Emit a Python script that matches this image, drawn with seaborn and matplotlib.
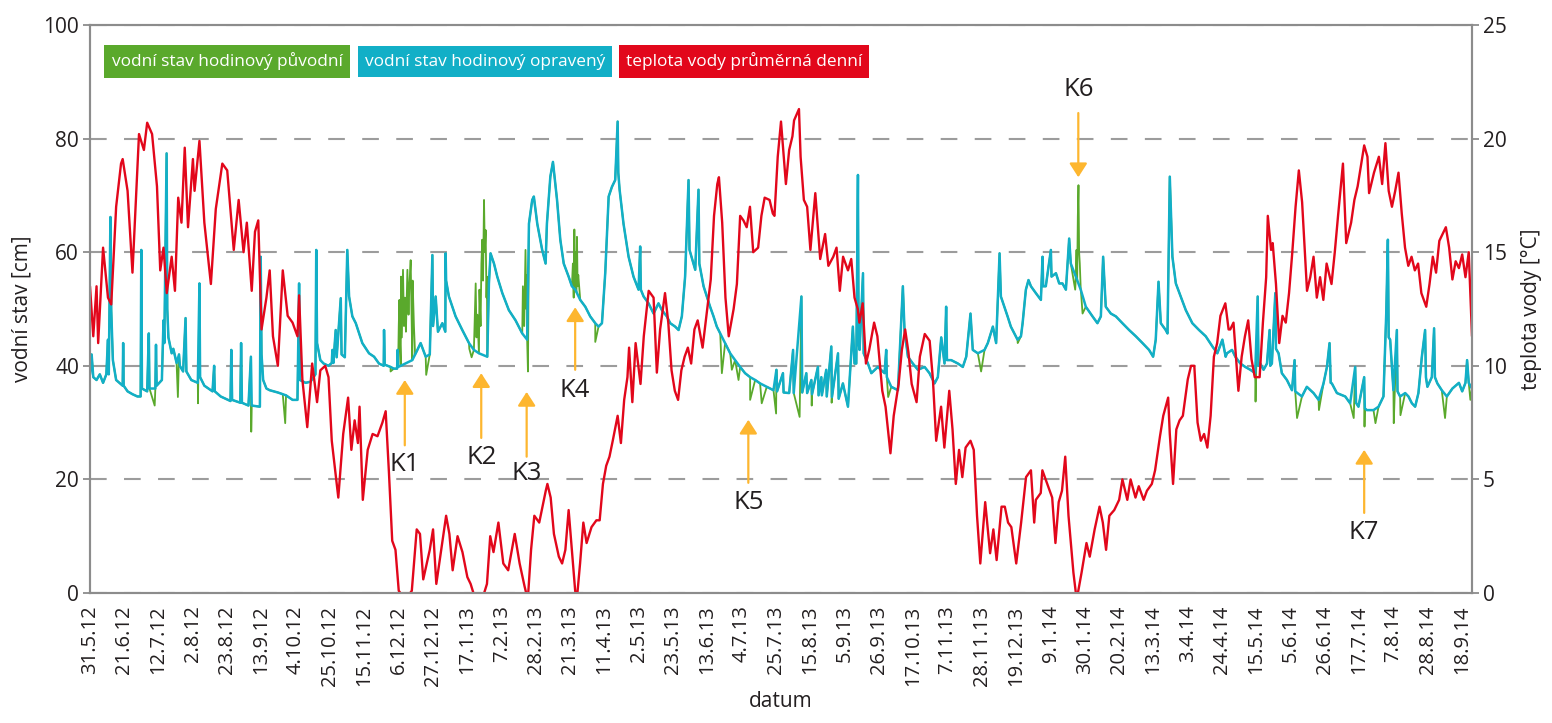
import numpy as np
import pandas as pd
import matplotlib
matplotlib.use("Agg")
import matplotlib.pyplot as plt
import seaborn as sns

# ---------------- data ----------------
START = "2012-05-31"

tick_labels = ["31.5.12", "21.6.12", "12.7.12", "2.8.12", "23.8.12", "13.9.12", "4.10.12",
               "25.10.12", "15.11.12", "6.12.12", "27.12.12", "17.1.13", "7.2.13", "28.2.13",
               "21.3.13", "11.4.13", "2.5.13", "23.5.13", "13.6.13", "4.7.13", "25.7.13",
               "15.8.13", "5.9.13", "26.9.13", "17.10.13", "7.11.13", "28.11.13", "19.12.13",
               "9.1.14", "30.1.14", "20.2.14", "13.3.14", "3.4.14", "24.4.14", "15.5.14",
               "5.6.14", "26.6.14", "17.7.14", "7.8.14", "28.8.14", "18.9.14"]

# water temperature, daily mean (days after 31.5.2012, degC)
temp_days = [0, 2, 4, 5, 8, 11, 13, 16, 19, 20, 23, 26, 28, 30, 33, 35, 38, 41, 43, 45, 47, 50, 52, 54, 56,
             58, 60, 63, 64, 67, 70, 74, 77, 81, 84, 88, 91, 94, 96, 99, 101, 103, 105, 108, 110, 112, 115,
             118, 121, 124, 127, 128, 130, 133, 136, 139,
             141, 144, 146, 148, 152, 155, 158, 160, 162, 164, 165, 167, 170, 173, 176, 179, 181, 183, 185,
             187, 189, 193, 197, 200, 202, 204, 208, 210, 212, 215, 218, 220, 222, 225, 228, 231, 233, 236,
             240, 243, 245, 247, 250, 253, 256, 260, 263, 266, 268, 270, 272, 275, 279,
             280, 282, 284, 287, 289, 291, 293, 295, 297, 298, 300, 302, 304, 307, 310, 312, 314, 316, 318,
             320, 323, 325, 327, 329, 330, 332, 334, 337, 339, 342, 345, 347, 349, 352, 354, 356, 358, 360,
             362, 364, 366, 368, 370, 372, 375, 378, 380, 382, 384, 385, 387, 389, 391, 394, 396, 398, 400,
             402, 404, 406, 409, 411, 413, 416, 418,
             419, 421, 423, 426, 428, 430, 431, 434, 435, 437, 439, 441, 444, 447, 450, 452, 455, 457, 459,
             461, 464, 466, 468, 470, 471, 473, 475, 477, 480, 482, 485, 487, 490, 492, 495, 497, 499, 501,
             503, 506, 508, 511, 514, 516, 518, 521, 523, 526, 528, 530, 532, 534, 536, 539, 541, 543, 545,
             548, 551, 553, 555, 558,
             560, 562, 564, 567, 570, 573, 576, 578, 579, 582, 583, 586, 589, 591, 593, 595, 597, 599, 602,
             604, 607, 610, 612, 615, 618, 620, 622, 624, 627, 630, 632, 635, 637, 640, 642, 645, 647, 650,
             652, 655, 657, 660, 661, 663, 665, 667, 669, 672, 674, 676, 678, 680, 682, 684, 686, 688, 690,
             692, 695, 697,
             698, 700, 703, 705, 707, 709, 711, 713, 716, 718, 720, 721, 723, 724, 726, 728, 730, 732, 734,
             736, 738, 740, 742, 745, 747, 749, 751, 753, 755, 757, 760, 762, 764, 767, 769, 772, 774, 776,
             780, 782, 783, 786, 789, 791, 793, 795, 797, 799, 801, 803, 805, 807, 809, 811, 813, 815, 818,
             820, 822, 824, 826, 830, 832, 834, 836, 838, 840, 842, 844, 846]
temp_vals = [13.5, 11.3, 13.5, 11.0, 15.2, 13.0, 12.7, 17.0, 18.9, 19.1, 17.7, 14.1, 17.2, 20.2, 19.5, 20.7,
             20.2, 17.9, 14.2, 15.2, 13.2, 14.8, 13.3, 17.4, 16.3, 19.6, 16.1, 19.1, 17.7, 19.9, 16.3, 13.6,
             16.9, 18.9, 18.6, 15.1, 17.3, 15.0, 16.3, 13.3, 15.9, 16.4, 11.6, 13.0, 14.2, 11.3, 10.0, 14.2,
             12.2, 11.9, 11.3, 13.1, 9.4, 7.3, 10.1, 8.4,
             9.8, 10.0, 9.5, 6.7, 4.2, 7.0, 8.6, 6.3, 7.6, 6.6, 8.2, 4.1, 6.3, 7.0, 6.9, 7.5, 8.0, 5.3, 2.3,
             1.9, 0.1, -0.3, 0.1, 2.8, 2.6, 0.6, 1.9, 2.8, 0.4, 1.9, 3.4, 2.6, 1.0, 2.5, 1.8, 0.7, 0.4, -0.3,
             -0.3, 0.4, 2.5, 1.8, 3.1, 1.3, 1.0, 2.6, 1.3, 0.3, -0.3, 1.9, 3.4, 3.1, 4.5,
             4.8, 4.2, 2.6, 1.6, 1.3, 1.9, 3.65, 1.9, 0.1, -0.3, 1.3, 3.1, 2.2, 2.9, 3.2, 3.2, 4.8, 5.6, 6.0,
             6.7, 7.8, 6.6, 8.5, 9.5, 10.8, 8.4, 11.0, 9.2, 11.3, 13.3, 13.0, 9.7, 11.6, 13.2, 11.9, 9.8, 8.9,
             8.5, 9.8, 10.4, 10.8, 10.1, 11.6, 12.0, 10.8, 12.6, 13.8, 16.6, 18.0, 18.3, 16.3, 13.0, 11.3,
             12.5, 13.6, 16.6, 16.4, 16.1, 17.0, 15.0, 15.2, 16.6, 17.4, 17.3, 16.7,
             16.6, 19.2, 20.75, 18.0, 19.5, 20.1, 20.8, 21.3, 19.2, 17.3, 17.0, 15.1, 17.6, 14.7, 15.8, 14.4,
             14.8, 15.2, 13.3, 14.8, 14.2, 14.7, 13.0, 12.5, 11.9, 12.75, 10.1, 10.7, 11.9, 11.3, 8.9, 8.2,
             6.15, 7.8, 9.2, 10.7, 11.6, 10.6, 9.2, 8.4, 10.4, 11.4, 11.1, 9.4, 6.7, 8.2, 6.4, 8.9, 7.2, 4.8,
             6.3, 5.1, 6.4, 6.7, 6.3, 3.4, 1.3, 4.0, 1.75, 2.8, 1.45, 3.8,
             3.8, 3.1, 2.9, 1.3, 3.1, 5.1, 5.4, 3.1, 4.1, 4.4, 5.4, 4.8, 4.2, 2.2, 4.0, 4.5, 6.0, 3.4, 0.9,
             -0.3, 0.9, 2.2, 1.6, 2.8, 3.8, 3.1, 1.9, 3.4, 3.65, 4.1, 5.0, 4.1, 5.0, 4.2, 4.7, 4.1, 4.5, 4.8,
             5.4, 6.9, 7.8, 8.6, 7.0, 4.8, 7.2, 7.6, 7.8, 9.4, 10.0, 10.0, 7.5, 6.7, 7.0, 6.4, 7.8, 10.4,
             11.0, 12.2, 12.75, 11.6,
             11.6, 11.9, 8.9, 10.4, 11.3, 12.0, 10.3, 9.5, 9.5, 11.9, 13.9, 16.6, 15.1, 15.4, 13.6, 11.0,
             12.2, 11.9, 13.2, 15.0, 17.0, 18.6, 17.2, 13.3, 13.9, 14.8, 13.0, 13.9, 12.9, 14.5, 13.6, 15.0,
             16.6, 18.9, 15.4, 16.3, 17.3, 17.9, 19.7, 19.2, 17.6, 18.5, 19.2, 18.0, 19.8, 17.7, 17.0, 17.7,
             18.5, 16.7, 15.2, 14.4, 14.8, 14.2, 14.5, 13.2, 12.6, 13.6, 14.8, 14.1, 15.5, 16.1, 15.2, 13.8,
             14.6, 14.3, 14.9, 13.9, 15.0, 11.3]

# corrected hourly water level (days after 31.5.2012, cm)
level_days = [0, 1, 2, 4, 6, 8, 10, 11, 11.5, 12.5, 13, 14, 16, 18, 20, 20.3, 20.6, 23, 26, 29, 31, 31.4, 31.8,
              35, 36, 36.4, 40, 40.4, 40.8, 44, 45, 45.5, 46.9, 47.3, 48, 50, 51, 53, 54.5, 55, 57, 58.5, 59,
              62, 66, 67, 67.4, 70, 75, 76, 76.4, 80, 86, 86.5, 87, 92, 92.5, 93, 97, 98.5, 99, 104, 104.5,
              105, 106, 108, 110, 115, 118, 120, 124, 127, 128, 128.5, 132, 135, 138, 138.5, 139, 141, 143,
              146, 148, 148.4, 149, 150.4, 151, 153.5, 154, 156, 157.5, 158.6, 160.6, 162.7, 166.7, 170.8,
              173.9, 176.9, 179.8, 180, 180.4, 184, 186, 188, 188.3, 188.6, 190.2, 197.3, 199.4, 202.4,
              205.5, 208, 209.6, 210, 211.6, 213, 215.7, 217.5, 217.7, 218, 219.7, 223.8, 227.9, 232, 235,
              238.1, 243.2, 244.2, 245.2, 247.3, 249.3, 252.4, 256.4, 260.5, 264.6, 267.6, 268.7, 270.7,
              271.7, 273.8, 276.8, 278.9, 279.7, 281.8, 283.4, 285.9, 287.9, 290, 293, 295, 297.1, 300.1,
              303.2, 306.2, 309.3, 311.3, 313.4, 315.4, 317.5, 319.5, 321.5, 323, 323.4, 324.2, 326.6,
              329.7, 332.7, 335.8, 336.8, 337.2, 338.9, 341.9, 345, 348, 350.1, 353.1, 355.2, 358.2, 360.3,
              362.3, 364.3, 366.4, 367, 370.5, 372.5, 373, 375.6, 377.6, 379.6, 381.7, 383.7, 385.8, 388.8,
              391.9, 394.9, 398, 401, 404.1, 407.2, 410.2, 414.3, 418.4, 420.2, 420.6, 424.2, 424.6, 428,
              430.4, 430.8, 435.5, 436, 438.5, 439, 441.6, 442, 445.6, 446, 447.7, 448, 450.7, 451, 453.8,
              454.2, 457.9, 458.3, 460.9, 464, 467, 468, 469.1, 470.1, 470.5, 471.1, 473.2, 473.6, 476.2,
              478.3, 482.3, 486.4, 487.4, 487.8, 490.5, 494.6, 497.6, 498.6, 500.7, 503.7, 506.8, 510.9,
              513.9, 517, 519, 521.1, 523.1, 524.1, 524.6, 527.2, 531.3, 534.3, 536.4, 539, 540.4, 543.5,
              547.6, 549.6, 552.7, 554.7, 556.8, 557.6, 559.7, 561.7, 563.7, 565.8, 567.8, 569.9, 570.9,
              572.9, 574.5, 576, 579, 582.1, 583.1, 583.5, 585.1, 588.2, 588.6, 591.3, 593.3, 595.3, 597.4,
              599.4, 600.4, 603.5, 606.5, 609.6, 613.7, 616.7, 618.8, 620.2, 621.8, 624.9, 628, 632, 636.1,
              640.2, 644.3, 648.3, 650.8, 652.4, 654.1, 655.5, 658.5, 659.6, 661, 662.6, 664.7, 667.7,
              670.8, 674.8, 678.9, 683, 687.1, 690.1, 693.2, 695.2, 696, 699.1, 701.1, 704.2, 707.2, 710.3,
              713.3, 714.8, 715.3, 716.4, 718.4, 720.5, 722.1, 722.5, 723.5, 725.6, 726, 727.6, 729.6,
              732.7, 735.8, 737.4, 737.8, 741.9, 744.9, 749, 752.1, 755.1, 757.2, 758.8, 759.5, 760.2,
              763.3, 768.4, 771.4, 774.5, 775, 776.5, 780, 780.4, 781.6, 785.7, 788.8, 791.8, 793.5, 794.5,
              795, 795.9, 797.9, 800, 800.4, 802, 805.1, 807.1, 809.2, 811.2, 813.2, 815.3, 817.3, 817.8,
              818.7, 821.4, 822.8, 823.3, 824.8, 827.5, 830.6, 834, 838, 840, 842, 843, 844, 846]
level_vals = [38.5, 42.0, 38.0, 37.5, 38.5, 37.0, 38.5, 44.6, 38.5, 66.2, 49.8, 41.0, 37.5, 37.0, 36.5, 44.0,
              36.5, 35.5, 35.0, 34.6, 34.6, 60.4, 36.0, 35.5, 45.7, 36.0, 36.0, 43.7, 36.5, 37.5, 48.0, 44.0,
              77.4, 50.0, 45.0, 42.2, 43.0, 40.5, 42.0, 40.0, 39.0, 48.4, 39.0, 37.5, 37.0, 54.5, 38.0, 36.5,
              35.5, 40.0, 35.5, 34.6, 33.8, 42.8, 34.0, 33.5, 44.0, 33.5, 33.0, 41.6, 33.0, 32.8, 59.2, 42.0,
              37.5, 36.0, 35.7, 35.3, 35.0, 34.8, 34.0, 34.0, 54.5, 37.5, 37.0, 37.2, 38.5, 60.4, 44.0, 41.0,
              40.4, 40.0, 40.5, 42.8, 40.5, 46.3, 41.5, 51.9, 42.0, 41.5, 60.4, 52.2, 48.7, 47.5, 44.0, 42.2,
              41.6, 40.4, 40.0, 46.3, 40.2, 39.8, 39.5, 39.5, 42.8, 39.8, 40.0, 41.0, 42.2, 44.0, 41.6, 42.0,
              59.5, 47.0, 52.2, 46.0, 47.5, 46.0, 59.8, 55.0, 52.2, 48.7, 46.3, 44.0, 42.8, 42.2, 41.6, 54.5,
              59.8, 58.0, 55.7, 52.8, 49.8, 48.0, 45.7, 44.6, 65.0, 69.2, 69.8, 65.0, 60.4, 58.0, 65.0, 73.3,
              75.9, 69.2, 62.2, 58.0, 55.7, 54.0, 53.4, 51.6, 50.4, 48.7, 47.5, 46.9, 47.5, 56.3, 69.8, 71.5,
              72.7, 83.0, 74.0, 71.0, 65.0, 59.2, 55.7, 53.4, 61.0, 53.4, 52.2, 51.0, 49.2, 51.0, 49.8, 48.7,
              47.5, 46.9, 46.3, 48.7, 55.7, 72.7, 60.4, 56.9, 71.0, 58.0, 54.0, 52.2, 50.4, 48.7, 46.9, 45.7,
              44.0, 42.2, 41.0, 39.8, 38.7, 38.0, 37.5, 36.9, 36.3, 35.7, 39.3, 35.5, 38.7, 35.3, 35.2, 42.8,
              35.2, 52.2, 35.3, 38.7, 35.2, 37.5, 35.0, 39.8, 34.8, 38.0, 34.8, 39.3, 34.6, 43.4, 34.5, 42.2,
              34.2, 36.9, 32.8, 46.9, 40.4, 40.4, 73.6, 44.0, 42.8, 56.3, 42.2, 40.4, 38.7, 39.8, 38.7, 42.8,
              38.0, 36.3, 35.7, 54.0, 46.3, 41.6, 40.4, 39.3, 39.8, 38.7, 36.9, 38.0, 45.0, 40.4, 50.4, 41.0,
              41.0, 40.4, 39.8, 41.6, 49.2, 42.8, 42.2, 42.8, 44.0, 46.9, 44.0, 59.8, 52.2, 50.4, 48.7, 46.9,
              45.7, 44.6, 45.2, 47.5, 53.4, 55.1, 54.0, 52.8, 51.6, 59.2, 54.0, 54.0, 60.4, 55.7, 56.3, 54.5,
              54.5, 53.4, 62.4, 58.0, 55.7, 53.4, 50.4, 48.7, 47.5, 48.7, 59.2, 50.4, 49.2, 48.7, 47.5, 46.3,
              45.2, 44.0, 42.8, 41.6, 44.6, 54.8, 47.5, 46.3, 45.7, 73.3, 59.2, 54.5, 52.2, 49.8, 47.5, 46.3,
              45.2, 43.4, 42.2, 44.6, 41.6, 42.2, 42.8, 41.6, 40.4, 39.8, 39.3, 38.7, 52.2, 40.0, 40.4, 39.3,
              40.4, 46.3, 40.0, 40.4, 52.8, 43.0, 42.2, 38.7, 37.5, 35.7, 41.0, 35.5, 34.6, 36.3, 35.2, 34.0,
              36.9, 39.8, 44.0, 37.0, 36.9, 35.2, 34.6, 33.4, 39.8, 33.5, 32.8, 38.0, 32.5, 32.2, 32.2, 32.8,
              34.6, 49.2, 62.2, 45.0, 44.6, 35.7, 46.3, 35.5, 34.6, 35.2, 34.6, 33.4, 32.8, 35.2, 41.6, 46.3,
              38.0, 36.3, 38.0, 46.6, 38.0, 36.9, 35.7, 34.6, 36.0, 37.0, 35.5, 37.0, 41.0, 37.0, 36.0]

# points where the original (uncorrected) hourly record differs from the corrected one
orig_days = [39.6, 53.8, 66.1, 98.7, 119.5, 184, 189.0, 189.4, 189.8, 190.4, 190.9, 191.6, 192.2, 192.8,
             193.4, 194.3, 195.0, 195.5, 196.3, 196.8, 197.5, 198.3, 199.0, 205.8,
             232.2, 233.6, 236.1, 236.6, 237.1, 238.4, 239.1, 239.6, 240.1, 240.6, 241.2, 241.7, 242.2,
             242.7, 243.0, 265.0, 265.8, 266.6, 267.1, 267.5, 268.1,
             295.6, 296.1, 296.5, 296.9, 297.3, 297.7, 298.1, 298.5, 298.9, 309.3, 386.8, 392.9, 397.0,
             404.1, 411.2, 420.0, 434.4, 441.8, 454.0, 488.6, 545.5, 567.9,
             603.1, 603.6, 603.9, 604.3, 604.7, 605.1, 605.5, 605.9, 606.3, 606.7, 607.6,
             713.5, 738.9, 752.3, 773.6, 780.2, 786.9, 798.1, 802.2, 829.5, 845.0]
orig_vals = [33.0, 34.5, 33.4, 28.4, 29.9, 39.0, 47.0, 51.6, 44.0, 55.7, 45.0, 56.9, 47.0, 52.0,
             46.0, 56.9, 49.0, 54.0, 58.6, 50.0, 55.0, 47.0, 42.0, 38.4,
             43.0, 41.5, 54.5, 45.0, 49.0, 53.4, 47.0, 58.0, 62.2, 55.0, 69.2, 60.0, 63.9,
             52.0, 55.7, 54.0, 47.0, 60.4, 50.0, 56.0, 39.0,
             58.0, 52.0, 64.0, 54.0, 60.0, 53.0, 62.7, 54.0, 56.0, 44.2, 38.7, 39.3, 37.5,
             34.0, 33.4, 31.6, 31.0, 33.0, 33.5, 34.5, 39.0, 44.0,
             53.4, 58.0, 60.4, 55.0, 66.3, 71.8, 60.0, 58.0, 55.0, 52.8, 49.2,
             33.7, 30.8, 32.2, 30.8, 29.3, 29.9, 29.9, 31.3, 30.8, 34.0]

series_names = ["vodní stav hodinový původní", "vodní stav hodinový opravený",
                "teplota vody průměrná denní"]

# event markers K1..K7: (label, day, arrow head, arrow tail, label height) in level units
k_labels = ["K1", "K2", "K3", "K4", "K5", "K6", "K7"]
k_days = [192.7, 239.5, 267.3, 297.0, 403.0, 605.0, 780.0]
k_head = [37.5, 38.7, 35.4, 50.3, 30.5, 73.2, 25.2]
k_tail = [26.0, 27.3, 24.0, 39.3, 19.4, 84.5, 14.1]
k_text = [22.7, 23.9, 21.1, 35.7, 16.0, 88.6, 10.6]

# ---------------- styling ----------------
GREEN = "#5aa92c"
CYAN = "#12afc7"
RED = "#e2071b"
ARROW = "#fdb62f"
GRAY = "#8c8c8c"
TXT = "#231f20"

sns.set_style("white")
plt.rcParams["font.family"] = ["Open Sans", "DejaVu Sans"]
plt.rcParams["lines.scale_dashes"] = False

start = pd.Timestamp(START)
to_date = lambda d: start + pd.to_timedelta(np.asarray(d, dtype=float), unit="D")

df_corr = pd.DataFrame({"date": to_date(level_days), "level": level_vals, "day": level_days})
df_extra = pd.DataFrame({"date": to_date(orig_days), "level": orig_vals, "day": orig_days})
df_orig = pd.concat([df_corr, df_extra]).sort_values("day", kind="stable").reset_index(drop=True)
df_temp = pd.DataFrame({"date": to_date(temp_days), "temp": temp_vals})

W, H = 1552, 723
fig = plt.figure(figsize=(W / 100, H / 100), dpi=100)
L, R, T, B = 90, 1472, 25, 593
ax = fig.add_axes([L / W, 1 - B / H, (R - L) / W, (B - T) / H])
ax2 = ax.twinx()

sns.lineplot(data=df_orig, x="date", y="level", ax=ax, color=GREEN, linewidth=1.3,
             estimator=None, sort=False)
sns.lineplot(data=df_corr, x="date", y="level", ax=ax, color=CYAN, linewidth=1.8,
             estimator=None, sort=False)
sns.lineplot(data=df_temp, x="date", y="temp", ax=ax2, color=RED, linewidth=1.7,
             estimator=None, sort=False)

ax.set_xlim(start, start + pd.Timedelta(days=846))
ax.set_ylim(0, 100)
ax2.set_ylim(0, 25)
ax.set_yticks(range(0, 101, 20))
ax2.set_yticks(range(0, 26, 5))

tick_dates = pd.to_datetime(tick_labels, format="%d.%m.%y")
ax.set_xticks(tick_dates)
ax.set_xticklabels(tick_labels, rotation=90, fontsize=14.5, color=TXT)

ax.yaxis.grid(True, linestyle=(0, (12, 12.5)), color="#9c9c9c", linewidth=1.5)
ax.xaxis.grid(False)
ax.set_axisbelow(True)

for a in (ax, ax2):
    for s in a.spines.values():
        s.set_color(GRAY)
        s.set_linewidth(1.5)
ax.tick_params(axis="x", length=0, pad=9)
ax.tick_params(axis="y", length=5, width=1.3, color=GRAY, labelsize=15, labelcolor=TXT, pad=3)
ax2.tick_params(axis="y", length=5, width=1.3, color=GRAY, labelsize=15, labelcolor=TXT, pad=3)

ax.set_xlabel("datum", fontsize=15, color=TXT, labelpad=4)
ax.set_ylabel("vodní stav [cm]", fontsize=15, color=TXT, labelpad=8)
ax2.set_ylabel("teplota vody [°C]", fontsize=15, color=TXT, labelpad=10)

# event arrows and labels
for lab, d, hd, tl, ty in zip(k_labels, k_days, k_head, k_tail, k_text):
    xd = to_date([d])[0]
    ax.annotate("", xy=(xd, hd), xytext=(xd, tl),
                arrowprops=dict(arrowstyle="-|>,head_length=0.7,head_width=0.45",
                                mutation_scale=12, color=ARROW, lw=1.6,
                                shrinkA=0, shrinkB=0), zorder=6)
    ax.text(xd, ty, lab, fontsize=18.5, color=TXT, ha="center", va="center", zorder=6)

# colored legend boxes
legend_x = [227, 485, 744]
legend_col = [GREEN, CYAN, RED]
for name, xc, col in zip(series_names, legend_x, legend_col):
    fig.text(xc / W, 1 - 61.5 / H, name, color="white", fontsize=12.4, ha="center", va="center",
             bbox=dict(facecolor=col, edgecolor="none", boxstyle="square,pad=0.42"))

fig.savefig("out.png", dpi=100)
